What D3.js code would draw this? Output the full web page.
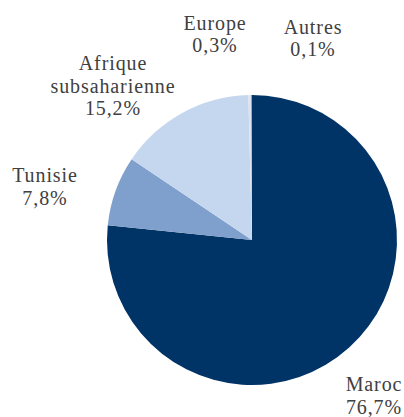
<!DOCTYPE html>
<html><head><meta charset="utf-8"><script src="https://cdn.jsdelivr.net/npm/d3@7"></script>
<style>
  body { margin: 0; background: #fff; }
  #wrap { position: relative; width: 404px; height: 417px; overflow: hidden; }
  #chart { position: absolute; left: 0; top: 0; }
  .lbl {
    position: absolute; width: 200px; text-align: center; white-space: pre;
    font-family: "Liberation Serif", "Tinos", "Times New Roman", serif;
    font-size: 20px; line-height: 22.5px; letter-spacing: 0.9px; color: #404040;
  }
</style>
</head>
<body>
<div id="wrap"><svg id="chart" width="404" height="417"></svg></div>
<script>
// Répartition par origine
const categories = ["Maroc", "Tunisie", "Afrique subsaharienne", "Europe", "Autres"];
const values = [76.7, 7.8, 15.2, 0.3, 0.1];
const colors = ["#003366", "#7f9fcc", "#c5d7ef", "#dde3ec", "#8797ad"];
// Label lines and anchor points (centre x, first baseline y) per slice
const labelLines = [["Maroc", "76,7%"], ["Tunisie", "7,8%"], ["Afrique", "subsaharienne", "15,2%"], ["Europe", "0,3%"], ["Autres", "0,1%"]];
const labelPos = [[374, 391], [45, 182], [113, 70], [215, 29.5], [313, 33.5]];

const svg = d3.select("#chart");
const cx = 252, cy = 240, r = 145;

const pie = d3.pie().sort(null).value(d => d)(values);
const arc = d3.arc().innerRadius(0).outerRadius(r);
const color = d3.scaleOrdinal().domain(categories).range(colors);

const g = svg.append("g").attr("transform", `translate(${cx},${cy})`);
g.selectAll("path")
  .data(pie)
  .join("path")
  .attr("d", arc)
  .attr("fill", (d, i) => color(categories[i]));

// Labels as HTML blocks; baseline sits about 18px below the block top
const baselineOffset = 18;
d3.select("#wrap").selectAll("div.lbl")
  .data(labelLines)
  .join("div")
  .attr("class", "lbl")
  .style("left", (d, i) => (labelPos[i][0] - 100) + "px")
  .style("top", (d, i) => (labelPos[i][1] - baselineOffset) + "px")
  .text(d => d.join("\n"));
</script></body></html>
